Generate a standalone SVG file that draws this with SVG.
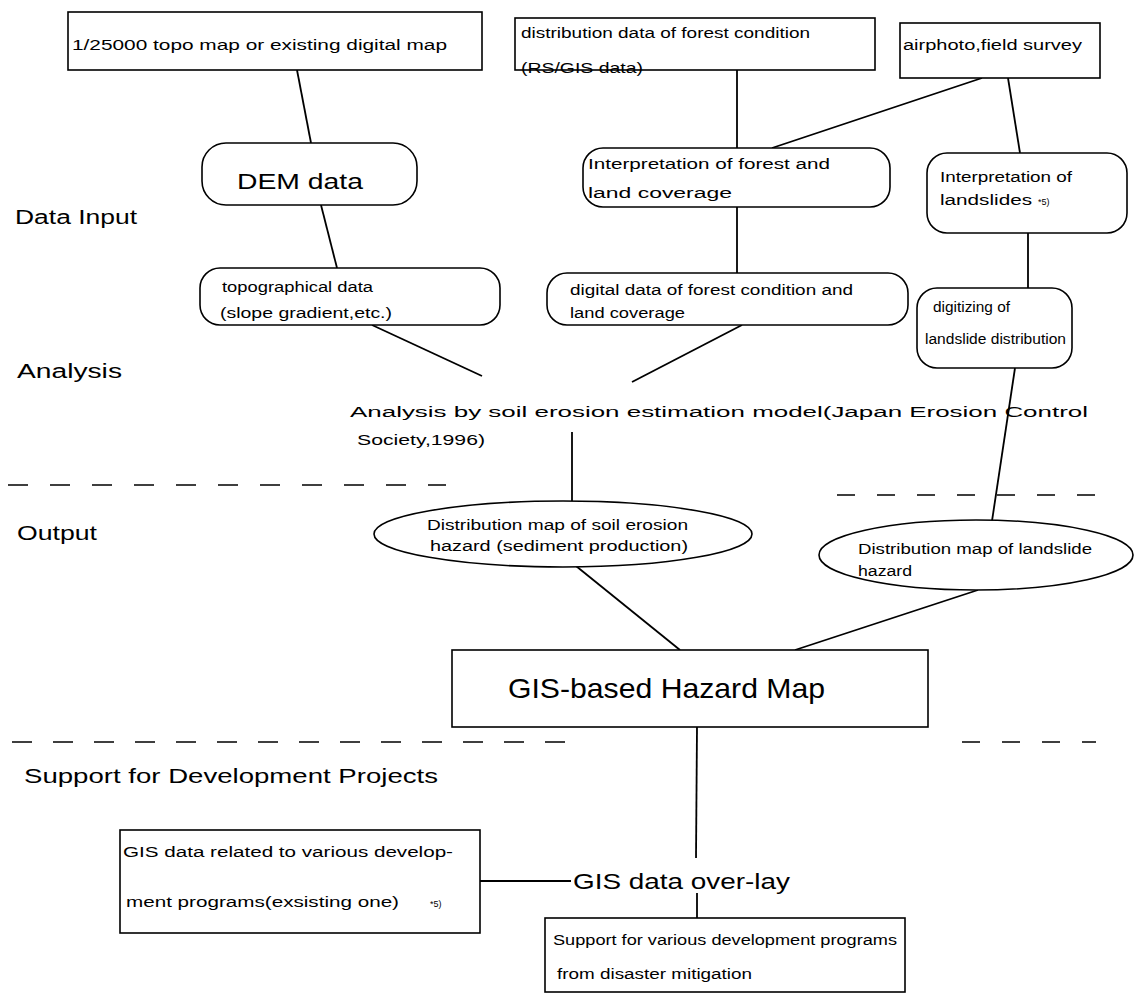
<svg xmlns="http://www.w3.org/2000/svg" width="1135" height="1001" viewBox="0 0 1135 1001">
  <style>
    .bg { fill: #ffffff; }
    .box { fill: #ffffff; stroke: #000000; stroke-width: 1.6; }
    .link { stroke: #000000; stroke-width: 1.8; fill: none; }
    .sep { stroke: #000000; stroke-width: 1.6; fill: none; }
    text { font-family: "Liberation Sans", Arial, sans-serif; fill: #000000; }
    .s { font-size: 14px; }
    .xs { font-size: 9px; }
    .lbl { font-size: 20px; }
    .big { font-size: 22px; }
    .title { font-size: 28px; }
  </style>

  <rect class="bg" x="0" y="0" width="1135" height="1001"/>

  <!-- section separators -->
  <g id="separators">
    <line class="sep" x1="8" y1="485" x2="446" y2="485" stroke-dasharray="20 22"/>
    <line class="sep" x1="837" y1="495" x2="1098" y2="495" stroke-dasharray="18 22"/>
    <line class="sep" x1="12" y1="742" x2="567" y2="742" stroke-dasharray="20 21"/>
    <line class="sep" x1="962" y1="742" x2="1096" y2="742" stroke-dasharray="18 22"/>
  </g>

  <!-- stage labels -->
  <g id="stage-labels">
    <text class="lbl" x="15" y="224" textLength="122" lengthAdjust="spacingAndGlyphs">Data  Input</text>
    <text class="lbl" x="17" y="378" textLength="105" lengthAdjust="spacingAndGlyphs">Analysis</text>
    <text class="lbl" x="17" y="540" textLength="80" lengthAdjust="spacingAndGlyphs">Output</text>
    <text class="lbl" x="24" y="783" textLength="414" lengthAdjust="spacingAndGlyphs">Support  for  Development  Projects</text>
  </g>

  <!-- connectors -->
  <g id="connectors">
    <line class="link" x1="297" y1="70" x2="311" y2="143"/>
    <line class="link" x1="321" y1="205" x2="337" y2="268"/>
    <line class="link" x1="372" y1="325" x2="482" y2="376"/>
    <line class="link" x1="737" y1="70" x2="737" y2="148"/>
    <line class="link" x1="737" y1="207" x2="737" y2="273"/>
    <line class="link" x1="742" y1="325" x2="632" y2="382"/>
    <line class="link" x1="982" y1="78" x2="772" y2="148"/>
    <line class="link" x1="1008" y1="78" x2="1020" y2="153"/>
    <line class="link" x1="1028" y1="233" x2="1028" y2="288"/>
    <line class="link" x1="1015" y1="368" x2="992" y2="521"/>
    <line class="link" x1="572" y1="432" x2="572" y2="501"/>
    <line class="link" x1="576" y1="566" x2="680" y2="650"/>
    <line class="link" x1="978" y1="590" x2="795" y2="650"/>
    <line class="link" x1="697" y1="727" x2="696" y2="858"/>
    <line class="link" x1="697" y1="893" x2="697" y2="918"/>
    <line class="link" x1="480" y1="881" x2="571" y2="881"/>
  </g>

  <!-- data input nodes -->
  <g id="topo-map">
    <rect class="box" x="68" y="12" width="414" height="58"/>
    <text class="s" x="72" y="50" textLength="375" lengthAdjust="spacingAndGlyphs">1/25000 topo map or existing digital map</text>
  </g>

  <g id="dem-data">
    <rect class="box" x="202" y="143" width="215" height="62" rx="24" ry="24"/>
    <text class="big" x="237" y="189" textLength="126" lengthAdjust="spacingAndGlyphs">DEM    data</text>
  </g>

  <g id="topographical-data">
    <rect class="box" x="200" y="268" width="300" height="57" rx="20" ry="20"/>
    <text class="s" x="222" y="292" textLength="151" lengthAdjust="spacingAndGlyphs">topographical data</text>
    <text class="s" x="220" y="318" textLength="172" lengthAdjust="spacingAndGlyphs">(slope gradient,etc.)</text>
  </g>

  <g id="forest-distribution">
    <rect class="box" x="515" y="18" width="360" height="52"/>
    <text class="s" x="521" y="38" textLength="289" lengthAdjust="spacingAndGlyphs">distribution data of forest condition</text>
    <text class="s" x="521" y="73" textLength="122" lengthAdjust="spacingAndGlyphs">(RS/GIS data)</text>
  </g>

  <g id="forest-interpretation">
    <rect class="box" x="583" y="148" width="307" height="59" rx="20" ry="20"/>
    <text class="s" x="588" y="169" textLength="242" lengthAdjust="spacingAndGlyphs">Interpretation of forest and</text>
    <text class="s" x="588" y="198" textLength="144" lengthAdjust="spacingAndGlyphs">land coverage</text>
  </g>

  <g id="forest-digital">
    <rect class="box" x="547" y="273" width="361" height="52" rx="20" ry="20"/>
    <text class="s" x="570" y="295" textLength="283" lengthAdjust="spacingAndGlyphs">digital data of forest condition and</text>
    <text class="s" x="570" y="318" textLength="115" lengthAdjust="spacingAndGlyphs">land coverage</text>
  </g>

  <g id="airphoto-survey">
    <rect class="box" x="900" y="23" width="200" height="55"/>
    <text class="s" x="903" y="50" textLength="179" lengthAdjust="spacingAndGlyphs">airphoto,field  survey</text>
  </g>

  <g id="landslide-interpretation">
    <rect class="box" x="927" y="153" width="200" height="80" rx="20" ry="20"/>
    <text class="s" x="940" y="182" textLength="132" lengthAdjust="spacingAndGlyphs">Interpretation of</text>
    <text class="s" x="940" y="205" textLength="92" lengthAdjust="spacingAndGlyphs">landslides</text>
    <text class="xs" x="1038" y="205">*5)</text>
  </g>

  <g id="landslide-digitizing">
    <rect class="box" x="917" y="288" width="155" height="80" rx="20" ry="20"/>
    <text class="s" x="933" y="312" textLength="77" lengthAdjust="spacingAndGlyphs">digitizing of</text>
    <text class="s" x="925" y="344" textLength="141" lengthAdjust="spacingAndGlyphs">landslide  distribution</text>
  </g>

  <!-- analysis -->
  <g id="erosion-model">
    <text class="s" x="350" y="417" textLength="738" lengthAdjust="spacingAndGlyphs">Analysis  by  soil  erosion  estimation  model(Japan  Erosion  Control</text>
    <text class="s" x="357" y="445" textLength="128" lengthAdjust="spacingAndGlyphs">Society,1996)</text>
  </g>

  <!-- outputs -->
  <g id="erosion-hazard-map">
    <ellipse class="box" cx="563" cy="534" rx="189" ry="33"/>
    <text class="s" x="427" y="530" textLength="261" lengthAdjust="spacingAndGlyphs">Distribution map of soil erosion</text>
    <text class="s" x="430" y="551" textLength="258" lengthAdjust="spacingAndGlyphs">hazard  (sediment production)</text>
  </g>

  <g id="landslide-hazard-map">
    <ellipse class="box" cx="976" cy="555" rx="157" ry="35"/>
    <text class="s" x="858" y="554" textLength="234" lengthAdjust="spacingAndGlyphs">Distribution map of landslide</text>
    <text class="s" x="858" y="576" textLength="54" lengthAdjust="spacingAndGlyphs">hazard</text>
  </g>

  <g id="gis-hazard-map">
    <rect class="box" x="452" y="650" width="476" height="77"/>
    <text class="title" x="508" y="698" textLength="317" lengthAdjust="spacingAndGlyphs">GIS-based  Hazard  Map</text>
  </g>

  <!-- support for development projects -->
  <g id="gis-development-data">
    <rect class="box" x="120" y="830" width="360" height="103"/>
    <text class="s" x="123" y="857" textLength="330" lengthAdjust="spacingAndGlyphs">GIS data related to various develop-</text>
    <text class="s" x="126" y="907" textLength="273" lengthAdjust="spacingAndGlyphs">ment programs(exsisting one)</text>
    <text class="xs" x="430" y="907">*5)</text>
  </g>

  <g id="gis-overlay">
    <text class="big" x="573" y="889" textLength="217" lengthAdjust="spacingAndGlyphs">GIS  data  over-lay</text>
  </g>

  <g id="development-support">
    <rect class="box" x="545" y="918" width="360" height="74"/>
    <text class="s" x="553" y="945" textLength="344" lengthAdjust="spacingAndGlyphs">Support for various development programs</text>
    <text class="s" x="557" y="979" textLength="195" lengthAdjust="spacingAndGlyphs">from disaster mitigation</text>
  </g>
</svg>
